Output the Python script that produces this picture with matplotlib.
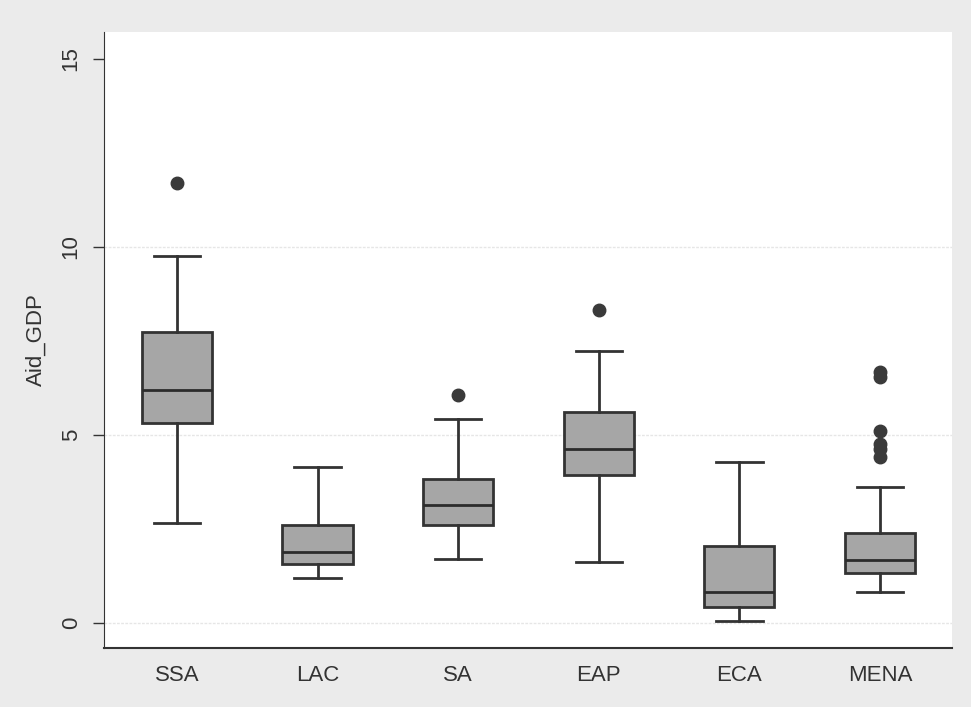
import matplotlib.pyplot as plt

# Données (Aid_GDP par région)
regions = ['SSA', 'LAC', 'SA', 'EAP', 'ECA', 'MENA']
q1 = [5.33, 1.58, 2.60, 3.93, 0.42, 1.33]
mediane = [6.19, 1.89, 3.15, 4.63, 0.82, 1.69]
q3 = [7.75, 2.62, 3.83, 5.60, 2.06, 2.39]
moust_bas = [2.66, 1.19, 1.71, 1.63, 0.07, 0.83]
moust_haut = [9.76, 4.15, 5.42, 7.23, 4.29, 3.62]
outliers = [[11.69], [], [6.06], [8.33], [], [6.68, 6.55, 5.11, 4.75, 4.62, 4.42]]

stats = []
for i, r in enumerate(regions):
    stats.append({'label': r, 'q1': q1[i], 'med': mediane[i], 'q3': q3[i],
                  'whislo': moust_bas[i], 'whishi': moust_haut[i], 'fliers': outliers[i]})

plt.rcParams['font.family'] = ['Liberation Sans', 'DejaVu Sans']

fig = plt.figure(figsize=(9.71, 7.07), dpi=100, facecolor='#ebebeb')
ax = fig.add_axes([0.107, 0.0835, 0.873, 0.8715])
ax.set_facecolor('white')

ax.bxp(stats, positions=range(1, 7), widths=0.5, patch_artist=True,
       boxprops=dict(facecolor='#a6a6a6', edgecolor='#333333', linewidth=2),
       medianprops=dict(color='#2b2b2b', linewidth=2),
       whiskerprops=dict(color='#333333', linewidth=2),
       capprops=dict(color='#333333', linewidth=2),
       capwidths=0.33,
       flierprops=dict(marker='o', markerfacecolor='#3a3a3a', markeredgecolor='#3a3a3a',
                       markersize=9))

ax.set_xlim(0.48, 6.51)
ax.set_ylim(-0.66, 15.72)
ax.set_yticks([0, 5, 10, 15])
ax.set_yticklabels(['0', '5', '10', '15'], rotation=90, va='center', fontsize=16, color='#333333')
ax.set_ylabel('Aid_GDP', fontsize=16, color='#333333', labelpad=10)
ax.tick_params(axis='y', length=8, width=1, color='#333333', pad=8)
ax.tick_params(axis='x', length=0, labelsize=16, labelcolor='#333333', pad=12)

for y in [0, 5, 10]:
    ax.axhline(y, color='#e6e6e6', linewidth=1, linestyle=(0, (2, 1)), zorder=0)

ax.spines['top'].set_visible(False)
ax.spines['right'].set_visible(False)
ax.spines['left'].set_color('#333333')
ax.spines['bottom'].set_color('#333333')
ax.spines['bottom'].set_linewidth(1.5)

plt.savefig('out.png', dpi=100, facecolor=fig.get_facecolor())
